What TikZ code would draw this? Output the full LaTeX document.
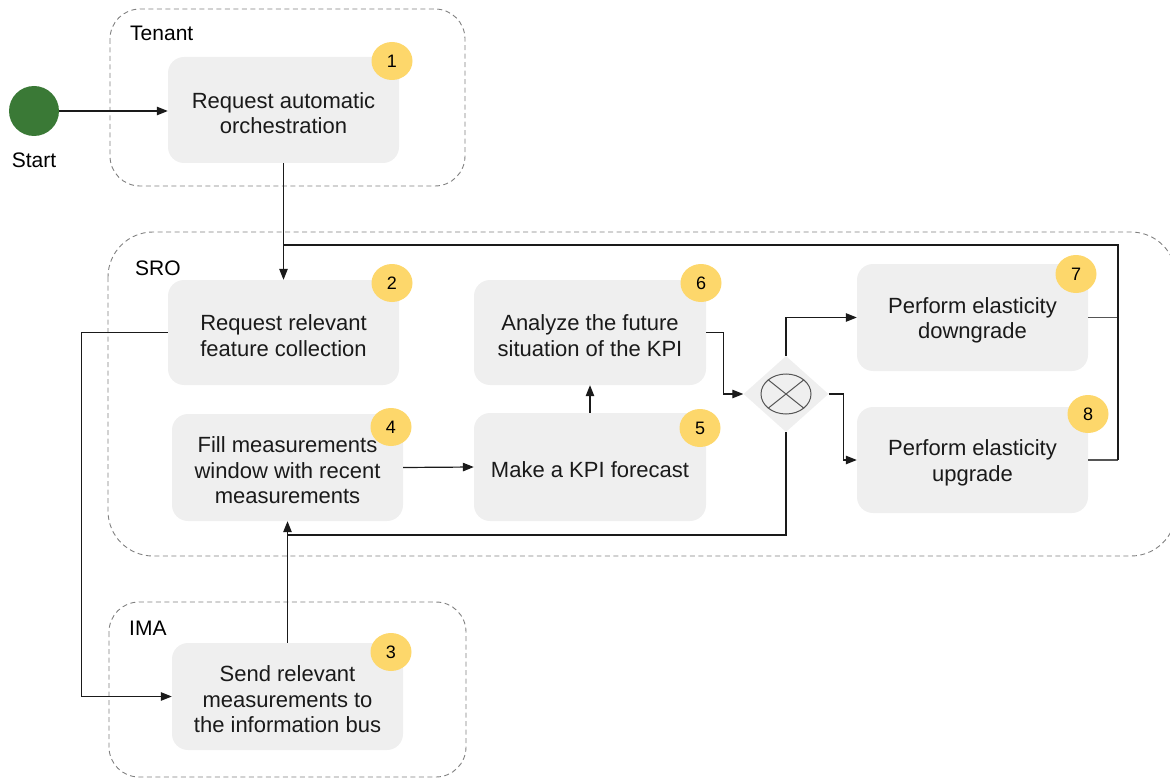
\documentclass[tikz,border=0pt]{standalone}
\usepackage{fontspec}
\setmainfont{Liberation Sans}
\usetikzlibrary{arrows.meta,shapes.geometric,calc}

\definecolor{taskfill}{HTML}{EFEFEF}
\definecolor{badgefill}{HTML}{FDD76B}
\definecolor{startfill}{HTML}{3A7936}
\definecolor{laneline}{HTML}{808080}
\definecolor{inkline}{HTML}{1A1A1A}
\definecolor{stubline}{HTML}{555555}
\definecolor{gateline}{HTML}{555555}

% extra head room on the first text line of a task
\newcommand{\headroom}{\rule{0pt}{22pt}}

\tikzset{
  lane/.style={draw=laneline, line width=0.9pt, dash pattern=on 5pt off 3.5pt, rounded corners=#1},
  lanelabel/.style={anchor=west, inner sep=0pt, font=\fontsize{21}{25}\selectfont},
  taskbox/.style={fill=taskfill, rounded corners=16pt, inner sep=0pt, align=center,
    text=inkline, font=\fontsize{22}{25.5}\selectfont},
  badge/.style={ellipse, fill=badgefill, minimum width=41pt, minimum height=38pt,
    inner sep=0pt, font=\fontsize{18}{20}\selectfont},
  conn/.style={draw=inkline, line width=1.2pt},
  flow/.style={conn, -{Triangle[length=11pt,width=8.5pt]}},
}

\begin{document}
\begin{tikzpicture}[x=1pt,y=-1pt]
\useasboundingbox (0,0) rectangle (1170,778);

% swimlane containers
\draw[lane=30pt] (110,9) rectangle (465,186);
\draw[lane=45pt] (108,232) rectangle (1176,556);
\draw[lane=30pt] (109,602) rectangle (466,777);
\node[lanelabel] (tenantlbl) at (130,33) {Tenant};
\node[lanelabel] (srolbl) at (135,268) {SRO};
\node[lanelabel] (imalbl) at (129,628) {IMA};

% start event
\node[circle, fill=startfill, minimum size=50pt, inner sep=0pt] (start) at (34,111) {};
\node[font=\fontsize{21}{25}\selectfont, inner sep=0pt] (startlbl) at (34,160) {Start};

% tasks
\node[taskbox, minimum width=231pt, minimum height=106pt] (b1) at (283.5,110) {\headroom Request automatic\\orchestration};
\node[taskbox, minimum width=231pt, minimum height=105pt] (b2) at (283.5,332.5) {\headroom Request relevant\\feature collection};
\node[taskbox, minimum width=231pt, minimum height=107pt] (b4) at (287.5,467.5) {\headroom Fill measurements\\window with recent\\measurements};
\node[taskbox, minimum width=231pt, minimum height=107pt] (b3) at (287.5,696.5) {\headroom Send relevant\\measurements to\\the information bus};
\node[taskbox, minimum width=232pt, minimum height=108pt] (b5) at (590,467) {\headroom Make a KPI forecast};
\node[taskbox, minimum width=232pt, minimum height=105pt] (b6) at (590,332.5) {\headroom Analyze the future\\situation of the KPI};
\node[taskbox, minimum width=231pt, minimum height=107pt] (b7) at (972.5,317.5) {\headroom Perform elasticity\\downgrade};
\node[taskbox, minimum width=231pt, minimum height=106pt] (b8) at (972.5,460) {\headroom Perform elasticity\\upgrade};

% exclusive gateway
\node[diamond, fill=taskfill, minimum width=85pt, minimum height=76pt, inner sep=0pt] (gw) at (786,394) {};
\draw[gateline, line width=1pt] (gw.center) ellipse [x radius=25pt, y radius=20pt];
\draw[gateline, line width=1pt] ($(gw.center)+(-17.7,-14.1)$) -- ($(gw.center)+(17.7,14.1)$);
\draw[gateline, line width=1pt] ($(gw.center)+(17.7,-14.1)$) -- ($(gw.center)+(-17.7,14.1)$);

% step badges
\node[badge] (n1) at (392,61) {1};
\node[badge] (n2) at (392,283) {2};
\node[badge] (n6) at (701,283) {6};
\node[badge] (n4) at (391,427) {4};
\node[badge] (n5) at (700,428) {5};
\node[badge] (n7) at (1076,274) {7};
\node[badge] (n8) at (1088,414) {8};
\node[badge] (n3) at (391,652) {3};

% routing points
\coordinate (loopR) at (1118,245);
\coordinate (loopL) at (284,245);
\coordinate (join) at (287,535);

% connectors
\draw[flow] (start.east) -- (start.east -| b1.west);
\draw[flow] (b1.south) -- (b2.north);
\draw[flow] (b2.west) -- ++(-86,0) |- (b3.west);
\draw[flow] (b3.north) -- (b4.south);
\draw[flow] (b4.east) -- (b5.west);
\draw[flow] (b5.north) -- (b6.south);
\draw[flow] (b6.east) -- ++(17,0) |- (gw.west);
\draw[flow] (gw.north) |- (b7.west);
\draw[flow] (gw.east) -- ++(15,0) |- (b8.west);
\draw[conn] (gw.south) |- (join);
\draw[conn, draw=stubline] (b7.east) -- (b7.east -| loopR);
\draw[conn, draw=stubline] (b8.east) -- (b8.east -| loopR);
\draw[conn] (b8.east -| loopR) -- (loopR) -- (loopL);
\end{tikzpicture}
\end{document}
